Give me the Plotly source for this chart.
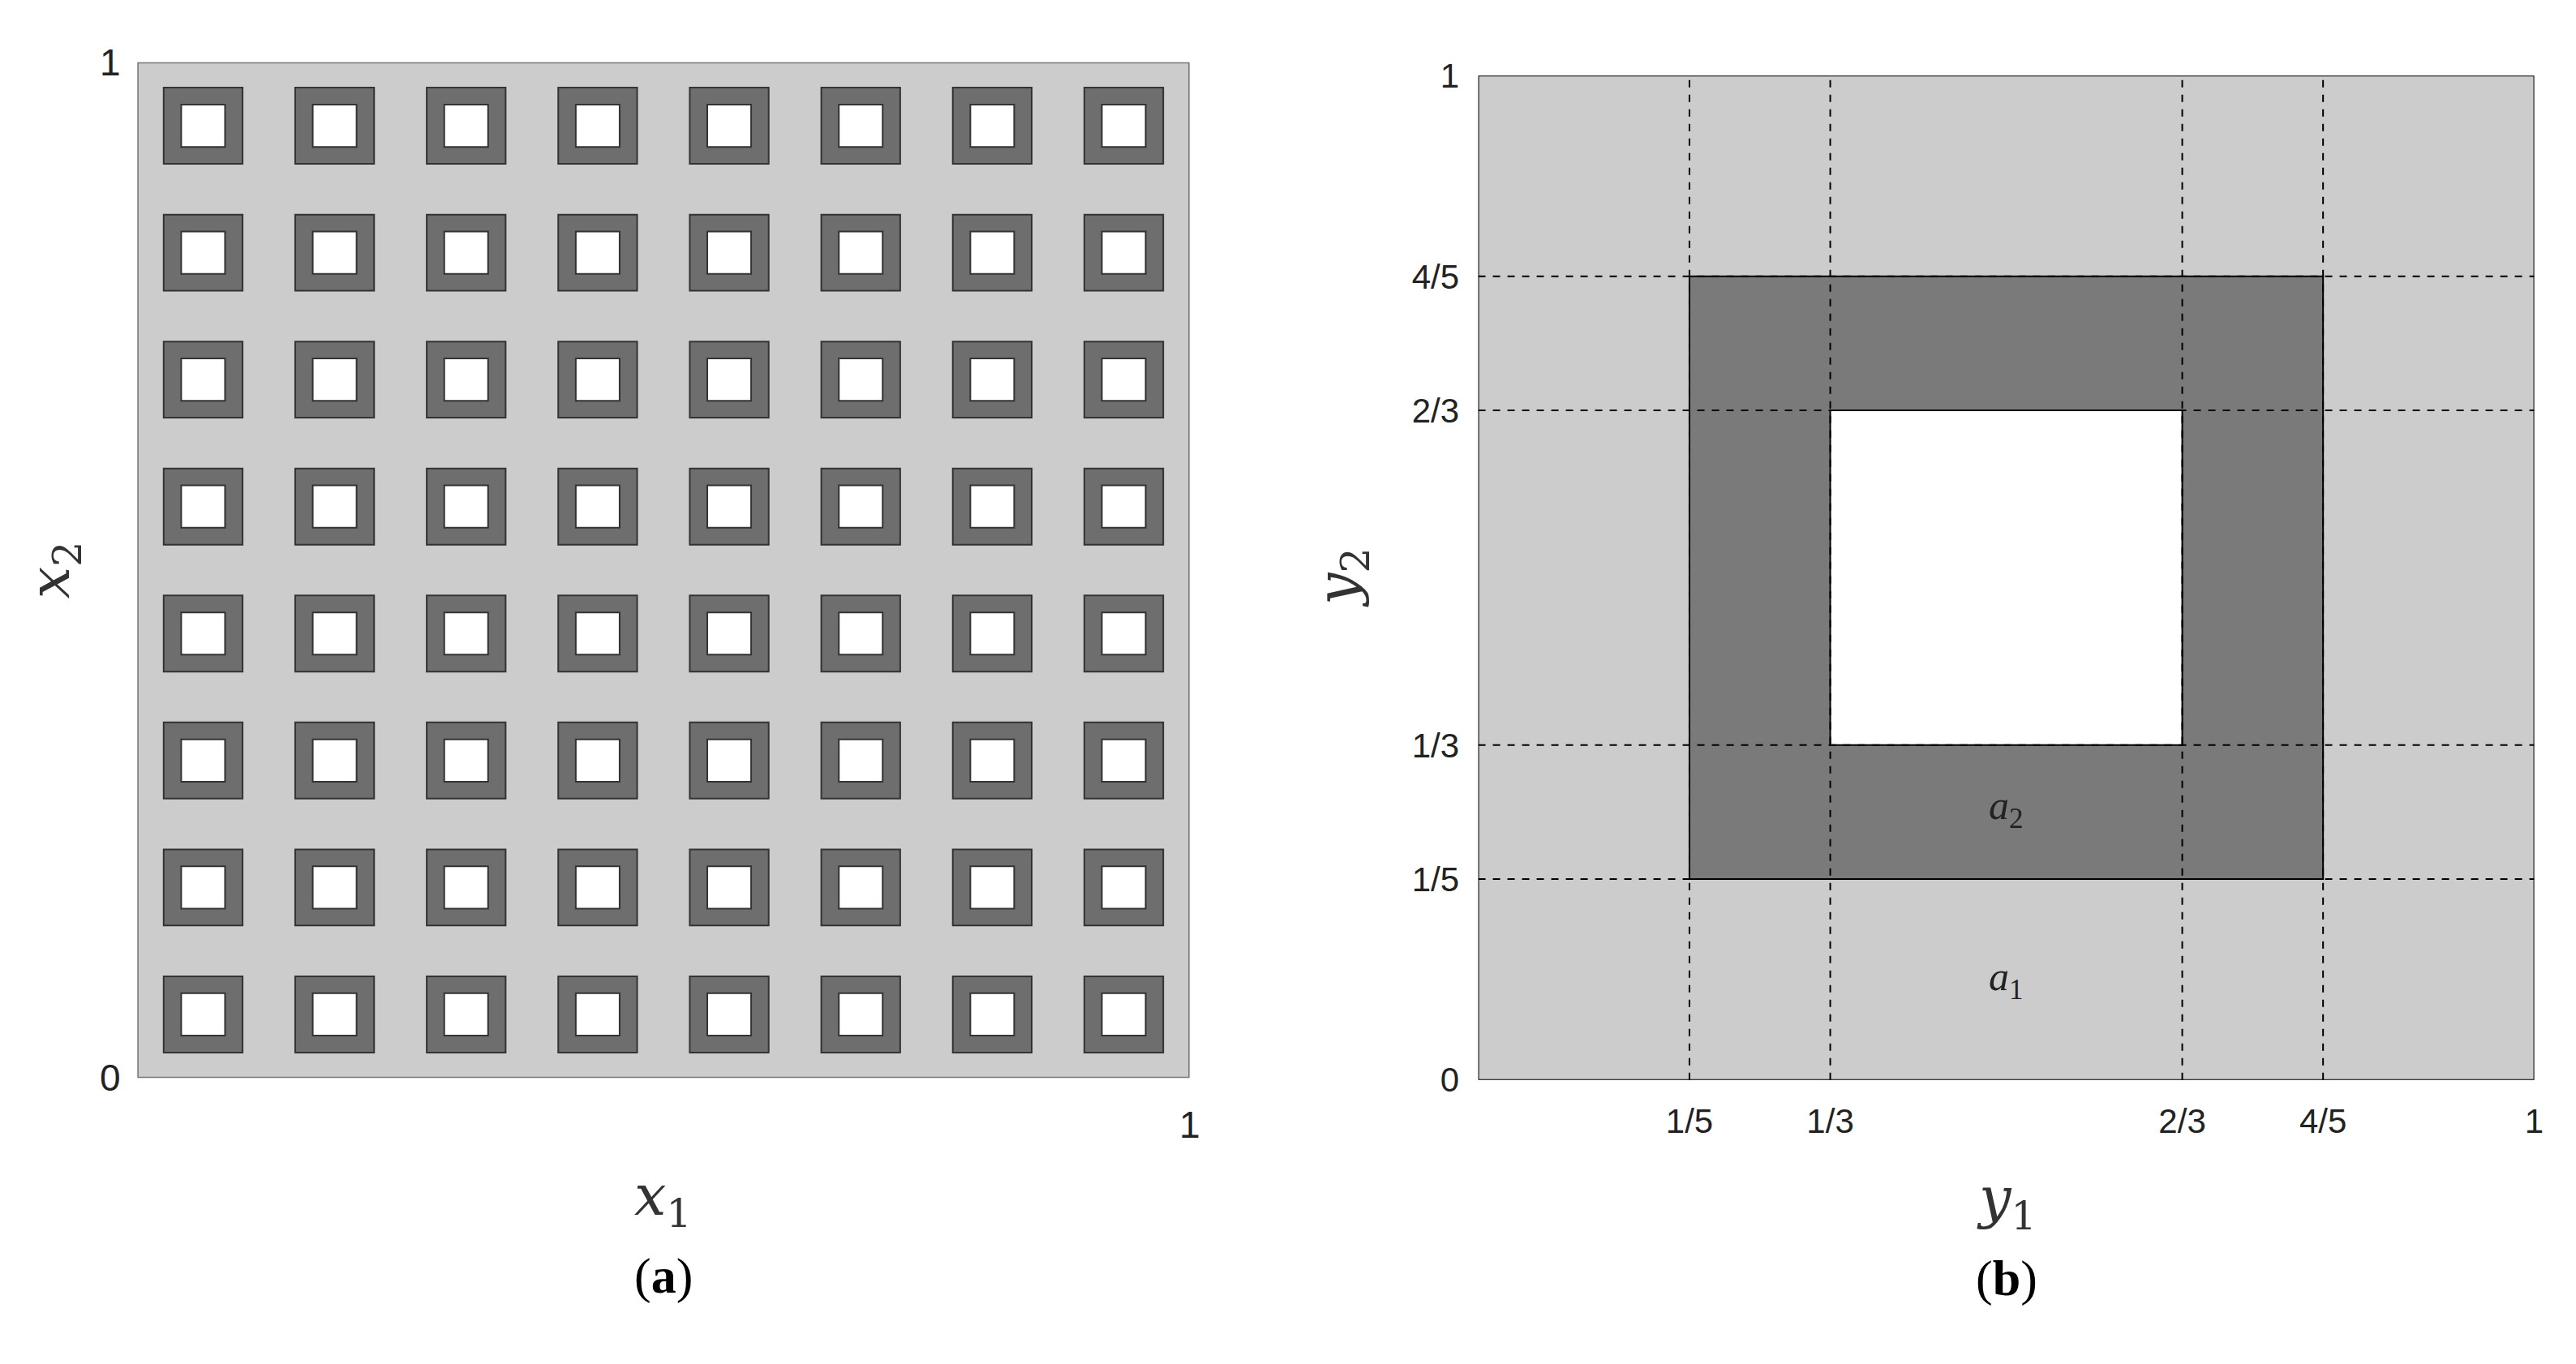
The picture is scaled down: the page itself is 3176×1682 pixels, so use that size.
import plotly.graph_objects as go

# left panel: 8x8 periodic cells, each with the (b) inclusion
n_cells = 8
outer = [1/5, 4/5]      # dark frame, in cell units
inner = [1/3, 2/3]      # white hole, in cell units

# right panel ticks
tick_vals = [0, 1/5, 1/3, 2/3, 4/5, 1]
tick_text = ["0", "1/5", "1/3", "2/3", "4/5", "1"]
dash_vals = [1/5, 1/3, 2/3, 4/5]

light = "#cccccc"
dark = "#7a7a7a"
dark_l = "#6e6e6e"

fig = go.Figure()
fig.add_trace(go.Scatter(x=[0, 1], y=[0, 1], mode="markers", marker=dict(opacity=0),
                         xaxis="x", yaxis="y", hoverinfo="skip", showlegend=False))
fig.add_trace(go.Scatter(x=[0, 1], y=[0, 1], mode="markers", marker=dict(opacity=0),
                         xaxis="x2", yaxis="y2", hoverinfo="skip", showlegend=False))

shapes = []
# left
shapes.append(dict(type="rect", xref="x", yref="y", x0=0, x1=1, y0=0, y1=1,
                   fillcolor=light, line=dict(color="#777777", width=3), layer="below"))
h = 1 / n_cells
for i in range(n_cells):
    for j in range(n_cells):
        shapes.append(dict(type="rect", xref="x", yref="y",
                           x0=(i + outer[0]) * h, x1=(i + outer[1]) * h,
                           y0=(j + outer[0]) * h, y1=(j + outer[1]) * h,
                           fillcolor=dark_l, line=dict(color="#333333", width=2)))
        shapes.append(dict(type="rect", xref="x", yref="y",
                           x0=(i + inner[0]) * h, x1=(i + inner[1]) * h,
                           y0=(j + inner[0]) * h, y1=(j + inner[1]) * h,
                           fillcolor="white", line=dict(color="#333333", width=2)))
# right
shapes.append(dict(type="rect", xref="x2", yref="y2", x0=0, x1=1, y0=0, y1=1,
                   fillcolor=light, line=dict(color="black", width=2), layer="below"))
shapes.append(dict(type="rect", xref="x2", yref="y2", x0=outer[0], x1=outer[1],
                   y0=outer[0], y1=outer[1], fillcolor=dark, line=dict(color="black", width=2)))
shapes.append(dict(type="rect", xref="x2", yref="y2", x0=inner[0], x1=inner[1],
                   y0=inner[0], y1=inner[1], fillcolor="white", line=dict(color="black", width=2)))
for v in dash_vals:
    shapes.append(dict(type="line", xref="x2", yref="y2", x0=v, x1=v, y0=0, y1=1,
                       line=dict(color="black", width=2, dash="dash")))
    shapes.append(dict(type="line", xref="x2", yref="y2", x0=0, x1=1, y0=v, y1=v,
                       line=dict(color="black", width=2, dash="dash")))

tick_font = dict(family="Liberation Sans, Arial", size=42, color="#222222")
lt_font = dict(family="Liberation Sans, Arial", size=46, color="#222222")
math_font = dict(family="DejaVu Serif", size=70, color="#333333")
cap_font = dict(family="Liberation Serif", size=62, color="black")

ann = [
    dict(x=0, y=1, xref="x", yref="y", text="1", showarrow=False, xanchor="right",
         yanchor="middle", xshift=-18, font=lt_font),
    dict(x=0, y=0, xref="x", yref="y", text="0", showarrow=False, xanchor="right",
         yanchor="middle", xshift=-18, font=lt_font),
    dict(x=1, y=0, xref="x", yref="y", text="1", showarrow=False, xanchor="center",
         yanchor="top", yshift=-30, font=lt_font),
    dict(x=0.5, y=0, xref="x", yref="y", text="<i>x</i><sub>1</sub>", showarrow=False,
         yanchor="top", yshift=-102, font=math_font),
    dict(x=0, y=0.5, xref="x", yref="y", text="<i>x</i><sub>2</sub>", showarrow=False,
         xanchor="right", xshift=-55, textangle=-90, font=math_font),
    dict(x=0.5, y=0, xref="x2", yref="y2", text="<i>y</i><sub>1</sub>", showarrow=False,
         yanchor="top", yshift=-102, font=math_font),
    dict(x=0, y=0.5, xref="x2", yref="y2", text="<i>y</i><sub>2</sub>", showarrow=False,
         xanchor="right", xshift=-120, textangle=-90, font=math_font),
    dict(x=0.5, y=0.27, xref="x2", yref="y2", text="<i>a</i><sub>2</sub>", showarrow=False,
         font=dict(family="Liberation Serif", size=50, color="#222222")),
    dict(x=0.5, y=0.1, xref="x2", yref="y2", text="<i>a</i><sub>1</sub>", showarrow=False,
         font=dict(family="Liberation Serif", size=50, color="#222222")),
    dict(x=0.5, y=0, xref="x", yref="y", text="(<b>a</b>)", showarrow=False,
         yanchor="top", yshift=-208, font=cap_font),
    dict(x=0.5, y=0, xref="x2", yref="y2", text="(<b>b</b>)", showarrow=False,
         yanchor="top", yshift=-208, font=cap_font),
]

fig.update_layout(
    width=3176, height=1682, margin=dict(l=0, r=0, t=0, b=0),
    paper_bgcolor="white", plot_bgcolor="white", showlegend=False,
    shapes=shapes, annotations=ann,
    xaxis=dict(domain=[0.051, 0.461], range=[0, 1], showgrid=False, zeroline=False,
               showticklabels=False, ticks=""),
    yaxis=dict(domain=[0.206, 0.972], range=[0, 1], showgrid=False, zeroline=False,
               showticklabels=False, ticks=""),
    xaxis2=dict(domain=[0.5735, 0.985], range=[0, 1], showgrid=False, zeroline=False,
                tickvals=tick_vals[1:], ticktext=tick_text[1:], ticks="outside", ticklen=14,
                tickcolor="white", tickfont=tick_font, anchor="y2"),
    yaxis2=dict(domain=[0.2045, 0.962], range=[0, 1], showgrid=False, zeroline=False,
                tickvals=tick_vals, ticktext=tick_text, ticks="outside", ticklen=14,
                tickcolor="white", tickfont=tick_font, anchor="x2"),
)

fig.write_html("out.html")
